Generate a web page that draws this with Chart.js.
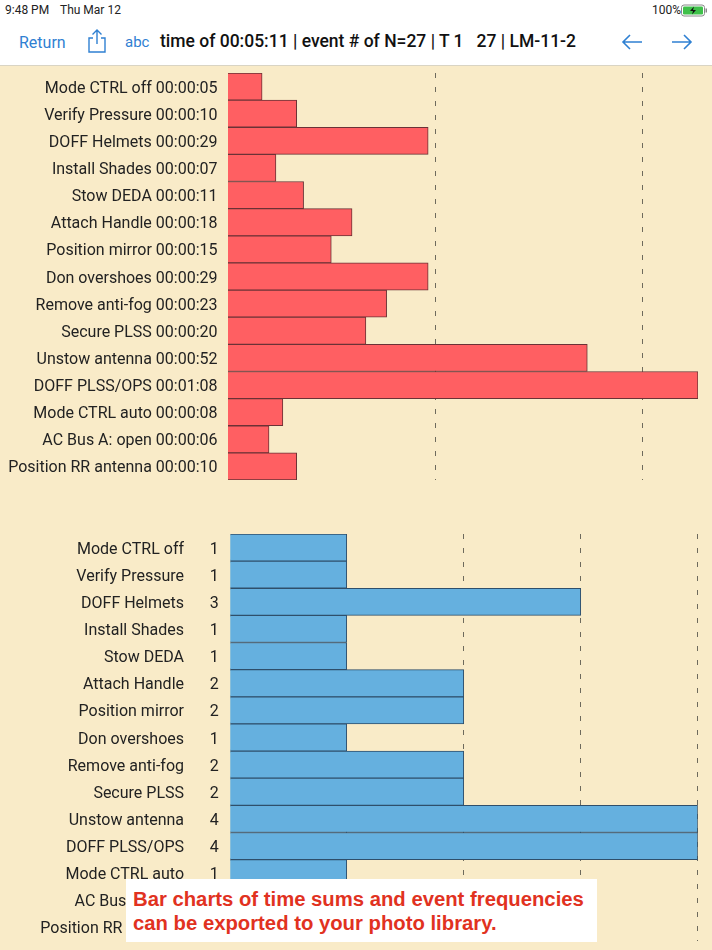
<!DOCTYPE html>
<html>
<head>
<meta charset="utf-8">
<title>LM-11-2</title>
<script src="https://cdn.jsdelivr.net/npm/chart.js@4"></script>
<style>
  html, body { margin: 0; padding: 0; width: 712px; height: 950px; overflow: hidden; background: #f9ebc8; font-family: 'Roboto', sans-serif; }
  .topbar { position: absolute; left: 0; top: 0; width: 712px; height: 65px; background: #fff; border-bottom: 1px solid #d9d4c4; }
  .topbar span { position: absolute; white-space: nowrap; }
  .status { font-size: 12px; color: #222; top: 3px; }
  .blue { color: #2f80d2; }
  .topbar svg { position: absolute; }
  .chart-wrap { position: absolute; left: 0; width: 712px; height: 430px; }
  .note { position: absolute; left: 126px; top: 879px; width: 471px; height: 62.5px; background: #fff; color: #e1321f;
    font: bold 20.3px/24px 'Liberation Sans', sans-serif; padding: 8px 0 0 7px; box-sizing: border-box; white-space: nowrap; }
</style>
</head>
<body>
<div class="topbar">
  <span class="status" style="left:5px">9:48 PM</span>
  <span class="status" style="left:60px">Thu Mar 12</span>
  <span class="status" style="left:652px">100%</span>
  <svg style="left:681px;top:4px" width="28" height="13" viewBox="0 0 28 13">
    <rect x="0.5" y="1" width="23" height="11" rx="2.5" fill="none" stroke="#888"/>
    <rect x="2" y="2.5" width="20" height="8" rx="1.2" fill="#3fc04a"/>
    <rect x="24.5" y="4.5" width="1.5" height="4" fill="#888"/>
    <path d="M13 2.5 L9 7 H12 L11 10.5 L15 6 H12 Z" fill="#111"/>
  </svg>
  <span class="blue" style="left:19px;top:33px;font-size:16px">Return</span>
  <svg style="left:85px;top:28px" width="24" height="26" viewBox="0 0 24 26" fill="none" stroke="#2f80d2" stroke-width="1.4">
    <path d="M8 10 H4 V24 H20 V10 H16"/><path d="M12 16 V2 M7.5 6.5 L12 2 L16.5 6.5"/>
  </svg>
  <span class="blue" style="left:125px;top:33px;font-size:15px">abc</span>
  <span id="nav-title" style="left:160px;top:31px;font-size:17.5px;font-weight:500;color:#111">time of 00:05:11 | event # of N=27 | T 1&nbsp;&nbsp;&nbsp;27 | LM-11-2</span>
  <svg style="left:620px;top:32px" width="24" height="20" viewBox="0 0 24 20" fill="none" stroke="#2f80d2" stroke-width="1.6">
    <path d="M22 10 H3 M10 3 L3 10 L10 17"/>
  </svg>
  <svg style="left:670px;top:32px" width="24" height="20" viewBox="0 0 24 20" fill="none" stroke="#2f80d2" stroke-width="1.6">
    <path d="M2 10 H21 M14 3 L21 10 L14 17"/>
  </svg>
</div>

<div class="chart-wrap" style="top:60px"><canvas id="chart-time"></canvas></div>
<div class="chart-wrap" style="top:520px"><canvas id="chart-freq"></canvas></div>

<div class="note">Bar charts of time sums and event frequencies<br>can be exported to your photo library.</div>

<script>
// ========== DATA ==========

const TASKS = [
  'Mode CTRL off', 'Verify Pressure', 'DOFF Helmets', 'Install Shades', 'Stow DEDA',
  'Attach Handle', 'Position mirror', 'Don overshoes', 'Remove anti-fog', 'Secure PLSS',
  'Unstow antenna', 'DOFF PLSS/OPS', 'Mode CTRL auto', 'AC Bus A: open', 'Position RR antenna',
];
const TIME_LABELS = [
  '00:00:05', '00:00:10', '00:00:29', '00:00:07', '00:00:11',
  '00:00:18', '00:00:15', '00:00:29', '00:00:23', '00:00:20',
  '00:00:52', '00:01:08', '00:00:08', '00:00:06', '00:00:10',
];
const TIME_SECONDS = [5, 10, 29, 7, 11, 18, 15, 29, 23, 20, 52, 68, 8, 6, 10];
const EVENT_COUNTS = [1, 1, 3, 1, 1, 2, 2, 1, 2, 2, 4, 4, 1, 1, 1];

// ========== THEME ==========

const LABEL_FONT = { family: "'Roboto', sans-serif", size: 16 };
const LABEL_COLOR = '#222';
const GRID_COLOR = '#6e6a5c';

function valueAxis(max, step) {
  return {
    min: 0,
    max: max,
    afterBuildTicks: axis => {
      axis.ticks = axis.ticks.filter(t => t.value % step === 0);
    },
    ticks: { display: false, stepSize: step },
    border: { display: false, dash: [5, 9] },
    grid: {
      drawTicks: false,
      lineWidth: 1,
      color: c => (c.tick.value === 0 ? 'transparent' : GRID_COLOR),
    },
    afterFit: axis => { axis.height = 0; },
  };
}

function labelAxis(width, padding, extra) {
  return Object.assign({
    type: 'category',
    offset: true,
    border: { display: false },
    grid: { display: false, drawTicks: false },
    ticks: { autoSkip: false, padding: padding, labelOffset: 2, color: LABEL_COLOR, font: LABEL_FONT },
    afterFit: axis => {
      axis.width = width;
      // no room reserved for the first/last label, bands fill the whole area
      axis.paddingTop = 0;
      axis.paddingBottom = 0;
    },
  }, extra);
}

function barDataset(values, fill, edge) {
  return {
    data: values,
    backgroundColor: fill,
    borderColor: edge,
    borderWidth: 1,
    barPercentage: 1,
    categoryPercentage: 1,
  };
}

const baseOptions = {
  indexAxis: 'y',
  responsive: true,
  maintainAspectRatio: false,
  animation: false,
  plugins: { legend: { display: false }, tooltip: { enabled: false } },
};

// ========== CHART: Time sums ==========

new Chart(document.getElementById('chart-time'), {
  type: 'bar',
  data: {
    labels: TASKS.map((t, i) => `${t} ${TIME_LABELS[i]}`),
    datasets: [barDataset(TIME_SECONDS, '#ff5f62', '#6b3236')],
  },
  options: Object.assign({}, baseOptions, {
    layout: { padding: { top: 13, bottom: 10, right: 14, left: 0 } },
    scales: { x: valueAxis(68, 30), y: labelAxis(227.5, 10) },
  }),
});

// ========== CHART: Event frequencies ==========

new Chart(document.getElementById('chart-freq'), {
  type: 'bar',
  data: {
    labels: EVENT_COUNTS.map(String),
    datasets: [barDataset(EVENT_COUNTS, '#65b0df', '#2f4f6b')],
  },
  options: Object.assign({}, baseOptions, {
    layout: { padding: { top: 14, bottom: 9, right: 14.25, left: 0 } },
    scales: {
      x: valueAxis(4, 1),
      y: labelAxis(45.75, 11, { weight: 0 }),
      names: labelAxis(184, 0, { weight: 1, position: 'left', labels: TASKS }),
    },
  }),
});
</script>
</body>
</html>
